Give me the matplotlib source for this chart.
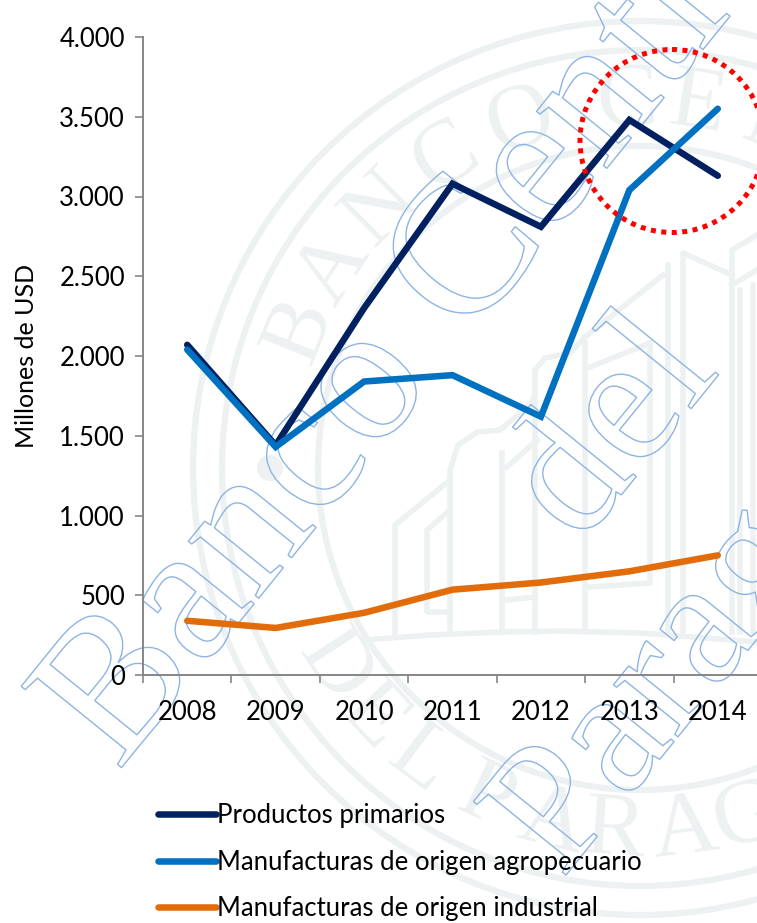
import numpy as np
import matplotlib
matplotlib.use("Agg")
import matplotlib.pyplot as plt
import matplotlib.patheffects as pe
from matplotlib.patches import Circle, Ellipse
from matplotlib.ticker import FuncFormatter

W, H = 757, 923

years = ["2008", "2009", "2010", "2011", "2012", "2013", "2014"]
primarios = [2070, 1440, 2300, 3080, 2810, 3480, 3130]
agropecuario = [2040, 1430, 1840, 1880, 1620, 3040, 3550]
industrial = [340, 295, 390, 535, 580, 650, 750]

NAVY = "#002060"
BLUE = "#0070C0"
ORANGE = "#E36C0A"
GREY = "#868686"
SEAL = "#EDF1F2"
WATER = "#8DB4E2"

plt.rcParams["font.family"] = ["Lato", "DejaVu Sans"]


def pixel_axes(fig, zorder):
    ax = fig.add_axes([0, 0, 1, 1], zorder=zorder)
    ax.set_xlim(0, W)
    ax.set_ylim(H, 0)
    ax.axis("off")
    return ax


def draw_seal(ax):
    cx, cy = 640, 468
    for r in (447, 418, 322):
        ax.add_patch(Circle((cx, cy), r, fill=False, ec=SEAL, lw=4.5))
    ax.add_patch(Circle((270, 468), 13, fc=SEAL, ec="none"))

    # letters on the ring, angle measured from the top of the seal
    top = [("B", -68), ("A", -57), ("N", -45), ("C", -32), ("O", -19),
           ("C", -2), ("E", 9), ("N", 22)]
    for ch, a in top:
        t = np.radians(a)
        ax.text(cx + 366 * np.sin(t), cy - 366 * np.cos(t), ch, color=SEAL,
                family="Liberation Serif", fontsize=66, rotation=-a,
                ha="center", va="center", rotation_mode="anchor")
    bottom = [("D", 57), ("E", 47), ("L", 37), ("P", 25), ("A", 14),
              ("R", 4), ("A", -7), ("G", -17), ("U", -28)]
    for ch, a in bottom:
        t = np.radians(a)
        ax.text(cx - 366 * np.sin(t), cy + 366 * np.cos(t), ch, color=SEAL,
                family="Liberation Serif", fontsize=66, rotation=-a,
                ha="center", va="center", rotation_mode="anchor")

    # the building in the middle of the seal
    outlines = [
        ([395, 395, 450], [632, 525, 480]),
        ([450, 427, 427, 450], [612, 612, 530, 510]),
        ([450, 450, 458, 478, 500, 530, 535, 535, 545, 570, 585, 663],
         [632, 470, 445, 432, 430, 405, 395, 370, 358, 353, 337, 275]),
        ([502, 502], [632, 453]),
        ([507, 537], [467, 440]),
        ([535, 535], [632, 395]),
        ([507, 535], [600, 597]),
        ([585, 585], [632, 337]),
        ([590, 650], [367, 343]),
        ([650, 650, 590], [343, 583, 587]),
        ([668, 668], [632, 265]),
        ([683, 683, 732], [632, 253, 275]),
        ([732, 732, 757], [632, 250, 235]),
        ([732, 757], [285, 270]),
        ([740, 740], [632, 290]),
        ([753, 753], [632, 285]),
        ([365, 430, 500, 560, 640, 757], [640, 635, 632, 631, 633, 642]),
    ]
    for xs, ys in outlines:
        ax.plot(xs, ys, color=SEAL, lw=4, solid_joinstyle="round")


def draw_watermark(ax):
    lines = [("Banco Central", 118, 772, 142), ("del", 580, 546, 132),
             ("Paraguay", 562, 880, 130)]
    for txt, x, y, size in lines:
        ax.text(x, y, txt, color="none", family="Liberation Serif", fontsize=size,
                rotation=51, rotation_mode="anchor", ha="left", va="baseline",
                path_effects=[pe.Stroke(linewidth=1.0, foreground=WATER)])


fig = plt.figure(figsize=(W / 100, H / 100), dpi=100)
fig.patch.set_facecolor("white")

back = pixel_axes(fig, 0)
draw_seal(back)
draw_watermark(back)

ax = fig.add_axes([143 / W, 1 - 675 / H, 619 / W, 638 / H], zorder=2)
ax.patch.set_visible(False)
x = np.arange(len(years))
ax.plot(x, primarios, color=NAVY, lw=4.7, label="Productos primarios",
        solid_capstyle="round", solid_joinstyle="miter")
ax.plot(x, agropecuario, color=BLUE, lw=4.7, label="Manufacturas de origen agropecuario",
        solid_capstyle="round", solid_joinstyle="miter")
ax.plot(x, industrial, color=ORANGE, lw=4.7, label="Manufacturas de origen industrial",
        solid_capstyle="round", solid_joinstyle="miter")

ax.set_xlim(-0.5, 6.5)
ax.set_ylim(0, 4000)
ax.set_yticks(range(0, 4001, 500))
ax.yaxis.set_major_formatter(FuncFormatter(lambda v, p: f"{int(v):,}".replace(",", ".")))
ax.set_xticks(x - 0.5)
ax.set_xticklabels([])
ax.set_xticks(x, years, minor=True)
ax.tick_params(axis="x", which="minor", length=0, labelsize=18.5, pad=18, colors="black")
ax.tick_params(axis="both", which="major", length=6, width=1.2, color=GREY, labelsize=18.5)
ax.tick_params(axis="y", pad=7)
for s in ("top", "right"):
    ax.spines[s].set_visible(False)
for s in ("left", "bottom"):
    ax.spines[s].set_color(GREY)
    ax.spines[s].set_linewidth(1.4)
ax.set_ylabel("Millones de USD", fontsize=18)
ax.yaxis.set_label_coords(-105 / 619, 0.5)

fig.legend(loc="upper left", bbox_to_anchor=(158 / W, 1 - 803 / H), frameon=False,
           fontsize=18.5, handlelength=2.25, handletextpad=0.05, labelspacing=0.84,
           borderpad=0, borderaxespad=0)

top = pixel_axes(fig, 3)
top.add_patch(Ellipse((672, 141), 184, 183, fill=False, ec="#FF0000", lw=3.6,
                      ls=(0, (1, 1.1)), clip_on=False))

fig.savefig("out.png", dpi=100)
